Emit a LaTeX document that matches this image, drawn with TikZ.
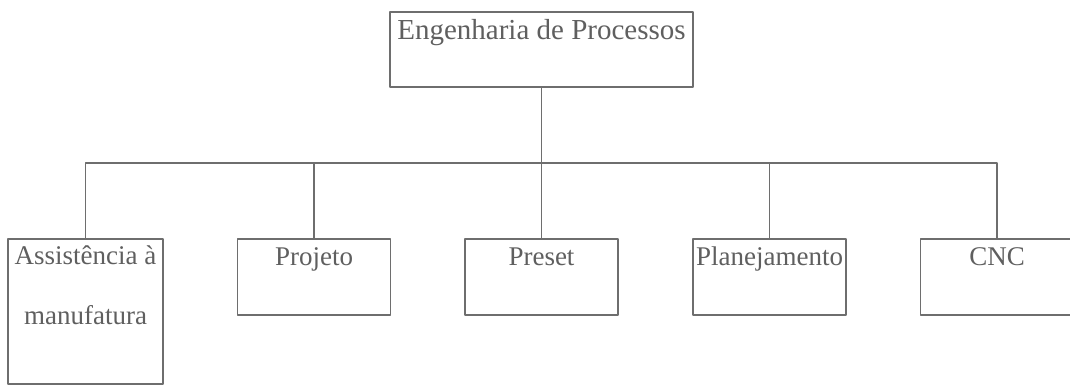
\documentclass[tikz,border=0pt]{standalone}
\usepackage{fontspec}
\setmainfont{Liberation Serif}
\usepackage{tikz}
\usetikzlibrary{positioning}
\definecolor{linegray}{RGB}{110,110,110}
\definecolor{textgray}{RGB}{95,95,95}

\begin{document}
\begin{tikzpicture}[x=1pt,y=-1pt,line cap=round,line join=round,
  box/.style={draw=linegray,line width=1.2pt,outer sep=0pt,inner sep=0pt,
    minimum width=153pt,minimum height=76pt,anchor=north},
  lbl/.style={anchor=north,inner xsep=0pt,inner ysep=8pt,text height=18pt,
    text=textgray,font=\fontsize{27}{33}\selectfont},
  conn/.style={draw=linegray,line width=1.2pt}]
\useasboundingbox (0,0) rectangle (1070,386);
%
\node[box,minimum width=303pt,minimum height=75pt] (eng) at (541.5,12)
  {};
\node[lbl,font=\fontsize{29}{35}\selectfont,inner ysep=7pt,text height=20pt]
  (englbl) at (eng.north) {Engenharia de Processos};
%
\node[box,minimum width=155pt,minimum height=145pt] (assist) at (85.5,239) {};
\node[lbl,align=center,text height=,inner ysep=7pt] (assistlbl) at (assist.north)
  {Assistência à\\[27pt]manufatura};
\node[box] (proj) at (314,239) {};
\node[lbl] (projlbl) at (proj.north) {Projeto};
\node[box] (pres) at (541.5,239) {};
\node[lbl] (preslbl) at (pres.north) {Preset};
\node[box] (plan) at (769.5,239) {};
\node[lbl] (planlbl) at (plan.north) {Planejamento};
\node[box] (cnc) at (997,239) {};
\node[lbl] (cnclbl) at (cnc.north) {CNC};
%
\coordinate (bus) at (541.5,163);
\draw[conn] (eng.south) -- (bus);
\draw[conn] (assist.north) -- (assist.north |- bus) -- (cnc.north |- bus)
  -- (cnc.north);
\foreach \n in {proj,pres,plan}
  \draw[conn] (\n.north) -- (\n.north |- bus);
\end{tikzpicture}
\end{document}
